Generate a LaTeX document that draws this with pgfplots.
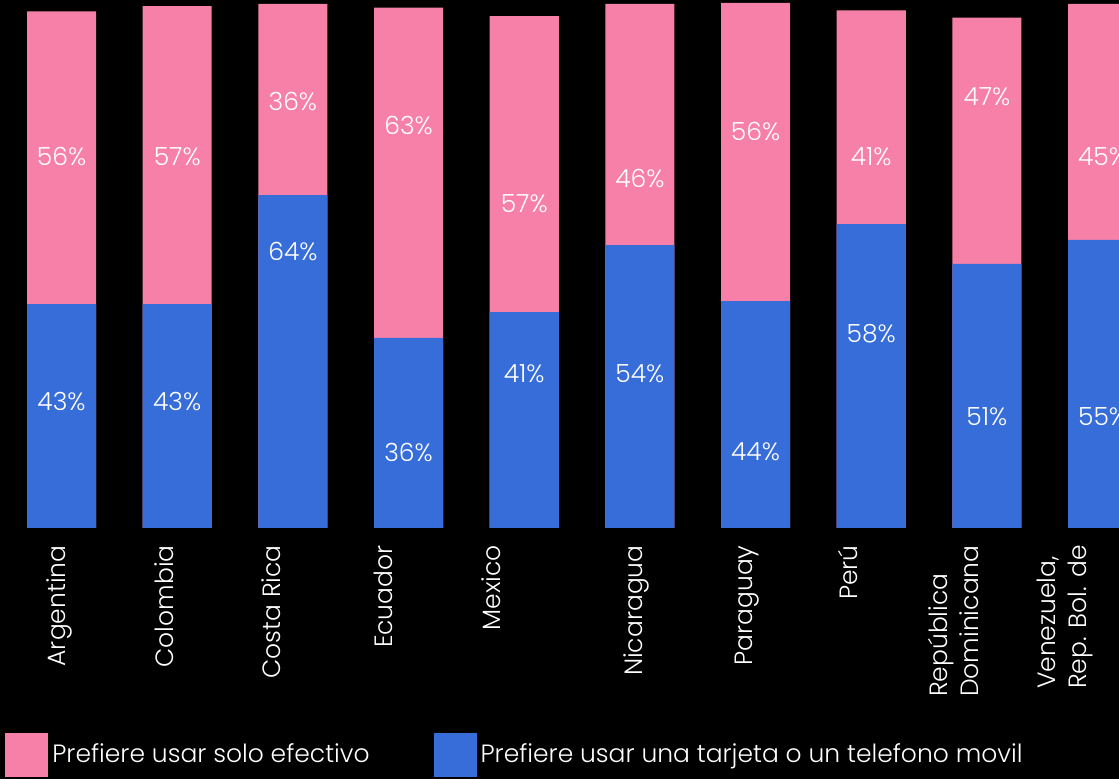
\documentclass[border=0pt]{standalone}
\usepackage{pgfplots}
\pgfplotsset{compat=1.18}
\usepackage{fontspec}
\setmainfont{Poppins Light}
\definecolor{pinkc}{HTML}{F780A8}
\definecolor{bluec}{HTML}{376DD8}
\begin{document}
\begin{tikzpicture}
\fill[black] (0,0) rectangle (559.5pt,389.5pt);
\useasboundingbox (0,0) rectangle (559.5pt,389.5pt);
\begin{axis}[
  at={(0pt,389.5pt)}, anchor=north west,
  scale only axis, width=559.5pt, height=264pt,
  xmin=-0.532, xmax=9.142, ymin=0, ymax=100.76,
  axis line style={draw=none},
  major tick length=0pt,
  ytick=\empty,
  xtick={0.030,0.964,1.889,2.857,3.791,5.019,5.970,6.877,7.924,8.857},
  xticklabels={Argentina, Colombia, Costa Rica, Ecuador, Mexico, Nicaragua, Paraguay, Perú, {República\\Dominicana}, {Venezuela,\\Rep. Bol. de}},
  x tick label style={yshift=-8.5pt, rotate=90, anchor=base east, align=left, text=white, inner sep=0pt, font=\fontsize{12.5}{15.5}\selectfont},
  legend columns=2,
  legend style={at={(rel axis cs:0,0)}, anchor=west, xshift=2.5pt, yshift=-113.5pt,
    draw=none, fill=none, inner sep=0pt, text=white,
    font=\fontsize{12.5}{15}\selectfont,
    /tikz/every even column/.append style={column sep=30pt}},
  legend image code/.code={\fill[#1] (0pt,-11pt) rectangle (21.5pt,11pt);},
]
\addlegendimage{fill=pinkc, draw=none}
\addlegendentry{Prefiere usar solo efectivo}
\addlegendimage{fill=bluec, draw=none}
\addlegendentry{Prefiere usar una tarjeta o un telefono movil}
% pink: top of each stack (blue + pink share)
\addplot[ybar, bar width=0.597, bar shift=0pt, fill=pinkc, draw=none, forget plot] coordinates {(0,98.6) (1,99.6) (2,100.0) (3,99.3) (4,97.7) (5,100.0) (6,100.2) (7,98.8) (8,97.4) (9,100.0)};
% blue share
\addplot[ybar, bar width=0.597, bar shift=0pt, fill=bluec, draw=none, forget plot] coordinates {(0,42.7) (1,42.7) (2,63.5) (3,36.3) (4,41.2) (5,54.0) (6,43.3) (7,58.0) (8,50.4) (9,55.0)};
% value labels
\addplot[draw=none, mark=none, forget plot, nodes near coords, point meta=explicit symbolic,
  nodes near coords align={center},
  every node near coord/.append style={text=white, font=\fontsize{12.5}{15}\selectfont, inner sep=0pt}]
  table[meta=l] {
x y l
0 70.8 56\%
0 24.2 43\%
1 70.8 57\%
1 24.2 43\%
2 81.3 36\%
2 52.7 64\%
3 76.9 63\%
3 14.5 36\%
4 61.8 57\%
4 29.4 41\%
5 66.6 46\%
5 29.4 54\%
6 75.6 56\%
6 14.5 44\%
7 70.8 41\%
7 37.0 58\%
8 82.3 47\%
8 21.2 51\%
9 70.8 45\%
9 21.2 55\%
};
\end{axis}
\end{tikzpicture}
\end{document}
